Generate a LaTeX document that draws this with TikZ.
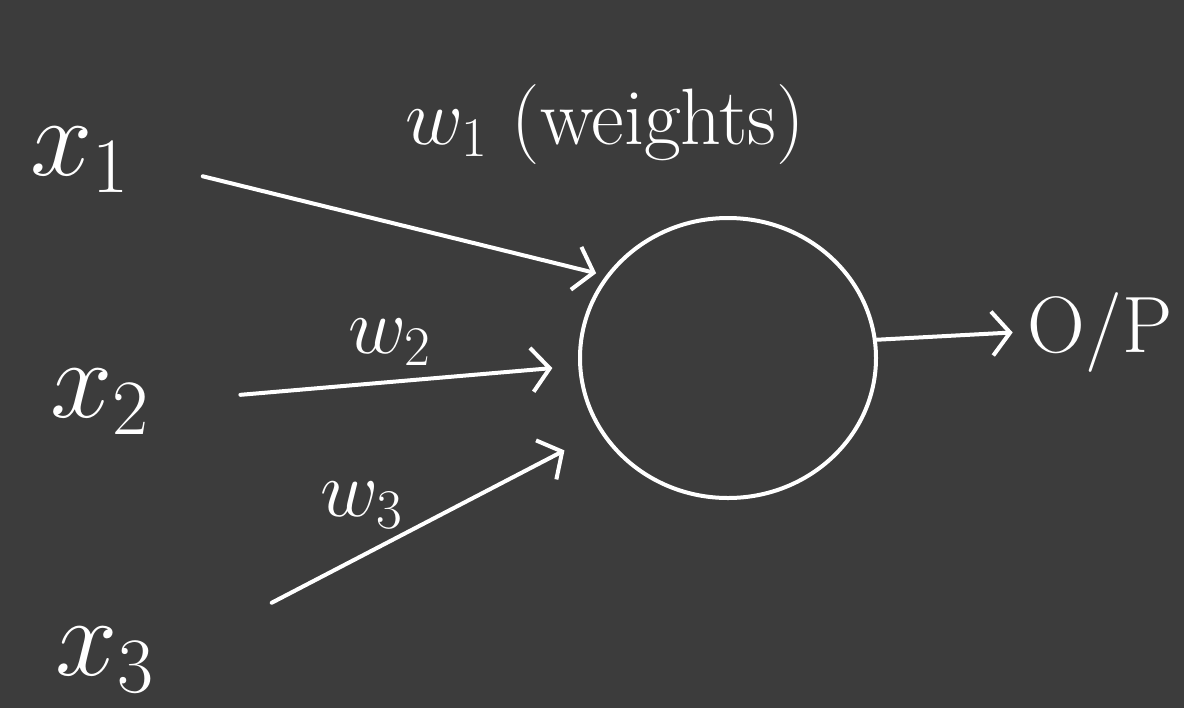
\RequirePackage{fix-cm}
\documentclass[tikz,border=0pt]{standalone}
\usepackage{tikz}
\usetikzlibrary{arrows.meta,positioning,shapes.geometric}
\definecolor{Board}{HTML}{3C3C3C}
\definecolor{Chalk}{HTML}{FFFFFF}

\begin{document}
\begin{tikzpicture}[x=0.5pt,y=-0.5pt,
  chalk/.style={draw=Chalk,line width=2pt,line cap=round},
  wire/.style={chalk,-{Straight Barb[length=9pt,width=22pt,line width=2pt]}},
  xin/.style={text=Chalk,font=\fontsize{56}{60}\selectfont},
  wlbl/.style={text=Chalk,font=\fontsize{40}{44}\selectfont}]
\fill[Board] (0,0) rectangle (1184,708);
\useasboundingbox (0,0) rectangle (1184,708);
% inputs, neuron and output
\node[xin] (x1) at (80,160) {$x_1$};
\node[xin] (x2) at (100,402) {$x_2$};
\node[xin] (x3) at (105,660) {$x_3$};
\node[chalk,ellipse,minimum width=148pt,minimum height=140pt] (n) at (728,358) {};
\node[wlbl] (op) at (1100,332) {O/P};
% weighted connections
\draw[wire,shorten <=34pt,shorten >=5pt] (x1.east) -- (n.146);
\draw[wire,shorten <=42pt,shorten >=13pt] (x2.east) -- (n.183);
\draw[wire,shorten <=62pt,shorten >=20pt] (x3.east) -- (n.210);
\draw[wire,shorten >=4pt] (n.7) -- (op.west);
\node[wlbl] (w1) at (605,125) {$w_1$ (weights)};
\node[wlbl] (w2) at (390,342) {$w_2$};
\node[wlbl] (w3) at (362,505) {$w_3$};
\end{tikzpicture}
\end{document}
